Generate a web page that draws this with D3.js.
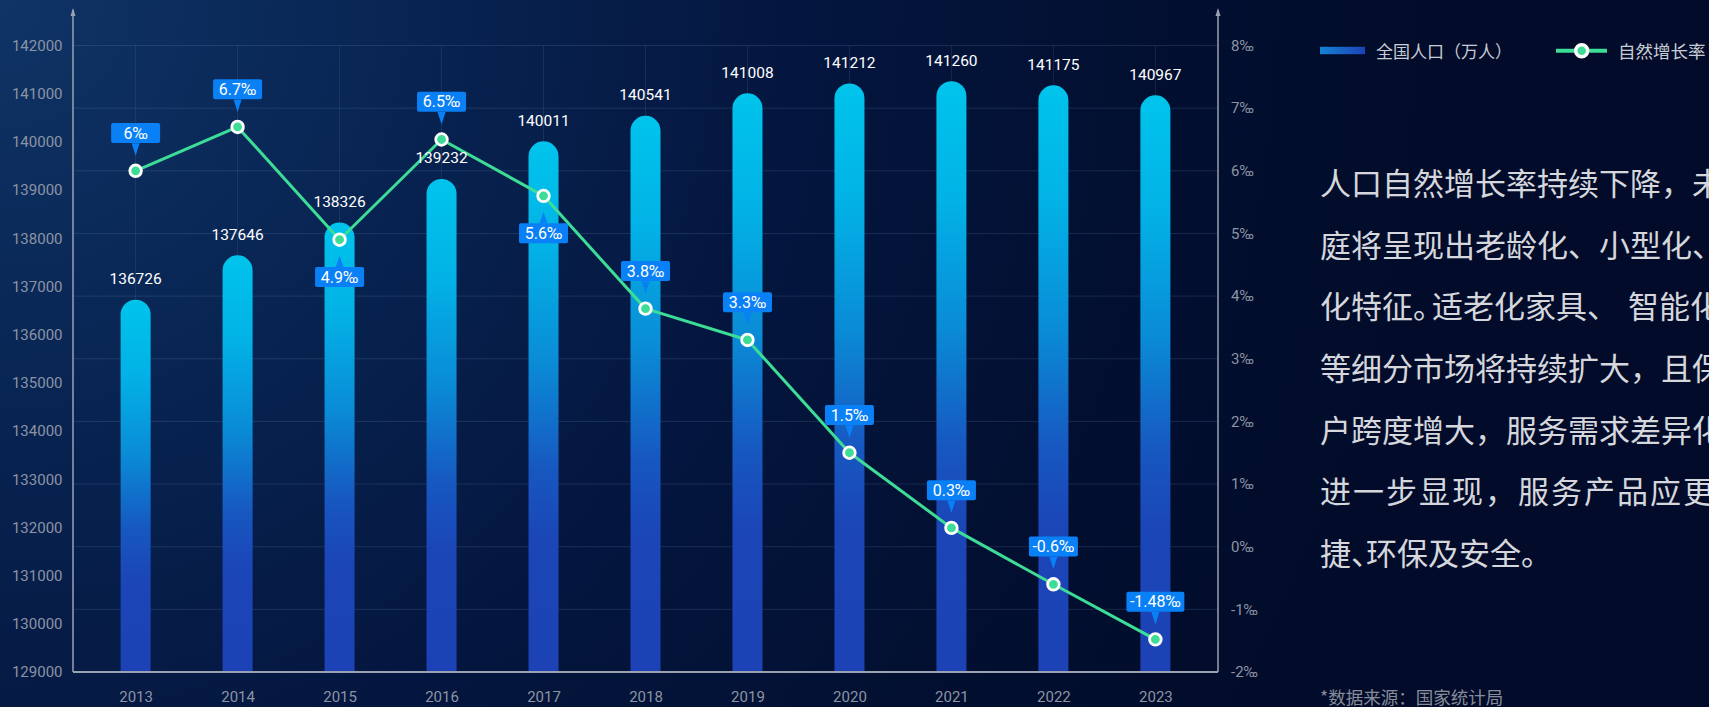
<!DOCTYPE html>
<html>
<head>
<meta charset="utf-8">
<script src="https://cdn.jsdelivr.net/npm/d3@7"></script>
<style>
html,body{margin:0;padding:0;background:#020c2a;overflow:hidden;}
svg{display:block;}
</style>
</head>
<body>
<svg id="chart" width="1709" height="707"></svg>
<script>
// ---------------- data ----------------
const years = ["2013","2014","2015","2016","2017","2018","2019","2020","2021","2022","2023"];
const population = [136726,137646,138326,139232,140011,140541,141008,141212,141260,141175,140967];
const growthRate = [6,6.7,4.9,6.5,5.6,3.8,3.3,1.5,0.3,-0.6,-1.48];
const populationTicks = [129000,130000,131000,132000,133000,134000,135000,136000,137000,138000,139000,140000,141000,142000];
const rateTicks = [-2,-1,0,1,2,3,4,5,6,7,8];
const rateLabelBelowYears = ["2015","2017"];
const legendNames = ["全国人口（万人）","自然增长率"];
const paragraphLines = [
  ["人口自然增长率持续下降，未来家"],
  ["庭将呈现出老龄化、小型化、空巢"],
  ["化特征。","适老化家具、","智能化家居"],
  ["等细分市场将持续扩大，且保"],
  ["户跨度增大，服务需求差异化"],
  ["进一步显现，服务产品应更加便"],
  ["捷、","环保及安全。"]
];
const sourceNote = "*数据来源：国家统计局";

// ---------------- layout ----------------
const W = 1709, H = 707;
const plot = {left: 73, right: 1218, top: 45.5, bottom: 672};
const NUM_FONT = "Roboto, 'Noto Sans', sans-serif";
const CJK_FONT = "'Noto Sans CJK SC', 'Noto Sans', sans-serif";

const svg = d3.select("#chart");
const defs = svg.append("defs");

// background
const bg = defs.append("radialGradient").attr("id","bgGrad")
  .attr("gradientUnits","userSpaceOnUse").attr("cx",0).attr("cy",0).attr("r",1450);
[[0,"#0f3466"],[0.28,"#082452"],[0.55,"#04163f"],[0.8,"#020f30"],[1,"#020c2a"]]
  .forEach(s => bg.append("stop").attr("offset",s[0]).attr("stop-color",s[1]));
svg.append("rect").attr("width",W).attr("height",H).attr("fill","url(#bgGrad)");

// bar gradient
const barGrad = defs.append("linearGradient").attr("id","barGrad")
  .attr("x1",0).attr("y1",0).attr("x2",0).attr("y2",1);
[[0,"#00c4ec"],[0.2,"#02b2e6"],[0.42,"#0a8bd6"],[0.62,"#1757c0"],[0.75,"#1b46b8"],[1,"#1c42b5"]]
  .forEach(s => barGrad.append("stop").attr("offset",s[0]).attr("stop-color",s[1]));

const legGrad = defs.append("linearGradient").attr("id","legGrad")
  .attr("x1",0).attr("y1",0).attr("x2",1).attr("y2",0);
[[0,"#1482d4"],[1,"#1d42b6"]].forEach(s => legGrad.append("stop").attr("offset",s[0]).attr("stop-color",s[1]));

// scales
const x = d3.scalePoint().domain(years).range([plot.left, plot.right]).padding(0.614);
const yPop = d3.scaleLinear().domain([129000,142000]).range([plot.bottom, plot.top]);
const yRate = d3.scaleLinear().domain([-2,8]).range([plot.bottom, plot.top]);

// grid
const grid = svg.append("g");
grid.selectAll("line.h").data(rateTicks).join("line")
  .attr("x1",plot.left).attr("x2",plot.right)
  .attr("y1",d=>yRate(d)).attr("y2",d=>yRate(d))
  .attr("stroke","rgba(150,175,220,0.16)").attr("stroke-width",1);
grid.selectAll("line.v").data(years).join("line")
  .attr("x1",d=>x(d)).attr("x2",d=>x(d))
  .attr("y1",plot.top).attr("y2",plot.bottom)
  .attr("stroke","rgba(150,175,220,0.13)").attr("stroke-width",1);

// axes
const AXIS_COL = "#9aa2b1", LABEL_COL = "#8c94a4";
const leftAxis = svg.append("g").attr("transform",`translate(${plot.left},0)`)
  .call(d3.axisLeft(yPop).tickValues(populationTicks).tickFormat(d=>d).tickSize(0).tickPadding(10.5));
const rightAxis = svg.append("g").attr("transform",`translate(${plot.right},0)`)
  .call(d3.axisRight(yRate).tickValues(rateTicks).tickFormat(d=>d+"‰").tickSize(0).tickPadding(13));
const bottomAxis = svg.append("g").attr("transform",`translate(0,${plot.bottom})`)
  .call(d3.axisBottom(x).tickSize(0).tickPadding(19.5));
[leftAxis,rightAxis,bottomAxis].forEach(g=>{
  g.select(".domain").remove();
  g.selectAll("text").attr("fill",LABEL_COL).style("font-family",NUM_FONT).style("font-size","15px");
});

// axis lines with arrows
function vAxisLine(xp){
  svg.append("line").attr("x1",xp).attr("x2",xp).attr("y1",10).attr("y2",plot.bottom)
    .attr("stroke",AXIS_COL).attr("stroke-width",1.5);
  svg.append("path").attr("d",`M${xp-2.5},16L${xp},8L${xp+2.5},16Z`).attr("fill",AXIS_COL);
}
vAxisLine(plot.left); vAxisLine(plot.right);
svg.append("line").attr("x1",plot.left).attr("x2",plot.right).attr("y1",plot.bottom).attr("y2",plot.bottom)
  .attr("stroke",AXIS_COL).attr("stroke-width",2);

// bars
const BW = 30, R = 15;
const barData = years.map((y,i)=>({year:y, v:population[i]}));
svg.append("g").selectAll("path").data(barData).join("path")
  .attr("d",d=>{
    const x0 = x(d.year)-BW/2, x1 = x(d.year)+BW/2, top = yPop(d.v), bot = plot.bottom - 1;
    return `M${x0},${bot}V${top+R}A${R},${R} 0 0 1 ${x1},${top+R}V${bot}Z`;
  })
  .attr("fill","url(#barGrad)");

// line
const rateData = years.map((y,i)=>({year:y, v:growthRate[i]}));
const GREEN = "#3ddc97";
svg.append("path").datum(rateData)
  .attr("d", d3.line().x(d=>x(d.year)).y(d=>yRate(d.v)))
  .attr("fill","none").attr("stroke",GREEN).attr("stroke-width",3).attr("stroke-linejoin","round");
svg.append("g").selectAll("circle").data(rateData).join("circle")
  .attr("cx",d=>x(d.year)).attr("cy",d=>yRate(d.v)).attr("r",5.8)
  .attr("fill",GREEN).attr("stroke","#ffffff").attr("stroke-width",2.8);

// bar value labels
svg.append("g").selectAll("text").data(barData).join("text")
  .attr("x",d=>x(d.year)).attr("y",d=>yPop(d.v)-15.5)
  .attr("text-anchor","middle").attr("fill","#ffffff")
  .style("font-family",NUM_FONT).style("font-size","15.5px")
  .text(d=>d.v);

// rate labels (callout boxes)
const BOX = "#0a80f6";
const rl = svg.append("g").selectAll("g").data(rateData).join("g")
  .attr("transform",d=>`translate(${x(d.year)},${yRate(d.v)})`);
rl.each(function(d){
  const g = d3.select(this);
  const below = rateLabelBelowYears.includes(d.year);
  const t = g.append("text").attr("text-anchor","middle").attr("fill","#fff")
    .style("font-family",NUM_FONT).style("font-size","16px").text(d.v+"‰");
  const tw = t.node().getComputedTextLength();
  const bw = Math.max(49, tw+7), bh = 20;
  const boxTop = below ? 27.3 : -47.7;
  const tipY = below ? 16 : -15, baseY = below ? 27.5 : -27.5;
  g.insert("path","text").attr("d",`M-4,${baseY}L0,${tipY}L4,${baseY}Z`).attr("fill",BOX);
  g.insert("rect","text").attr("x",-bw/2).attr("y",boxTop).attr("width",bw).attr("height",bh)
    .attr("rx",2).attr("fill",BOX);
  t.attr("y", boxTop + bh/2 + 5.6);
});

// legend
const lg = svg.append("g");
lg.append("rect").attr("x",1320).attr("y",46.8).attr("width",45).attr("height",7.4).attr("fill","url(#legGrad)");
lg.append("text").attr("x",1376).attr("y",50.5).attr("dominant-baseline","central")
  .attr("fill","#c9ccd4").style("font-family",CJK_FONT).style("font-size","17px").text(legendNames[0]);
lg.append("line").attr("x1",1556).attr("x2",1607).attr("y1",50.7).attr("y2",50.7)
  .attr("stroke",GREEN).attr("stroke-width",4);
lg.append("circle").attr("cx",1581.7).attr("cy",50.7).attr("r",6).attr("fill",GREEN)
  .attr("stroke","#fff").attr("stroke-width",3.4);
lg.append("text").attr("x",1618).attr("y",50.5).attr("dominant-baseline","central")
  .attr("fill","#c9ccd4").style("font-family",CJK_FONT).style("font-size","17.5px").text(legendNames[1]);

// paragraph (punctuation after 。/、 is tightened as in the reference)
const segShift = {"化特征。":0, "适老化家具、":-12, "智能化家居":10, "捷、":0, "环保及安全。":-16};
const para = svg.append("g").selectAll("text").data(paragraphLines).join("text")
  .attr("x",1320).attr("y",(d,i)=>183.3 + i*61.7 + 11.5)
  .attr("fill","#d5d7dd").style("font-family",CJK_FONT).style("font-size","31px")
  .style("letter-spacing",(d,i)=> i===5 ? "2px" : "0px");
para.selectAll("tspan").data(d=>d).join("tspan")
  .attr("dx",s=>segShift[s] || 0)
  .text(s=>s);

// source note
svg.append("text").attr("x",1320).attr("y",696.7).attr("dominant-baseline","central")
  .attr("fill","#868c9a").style("font-family",CJK_FONT).style("font-size","17.5px").text(sourceNote);
</script>
</body>
</html>
